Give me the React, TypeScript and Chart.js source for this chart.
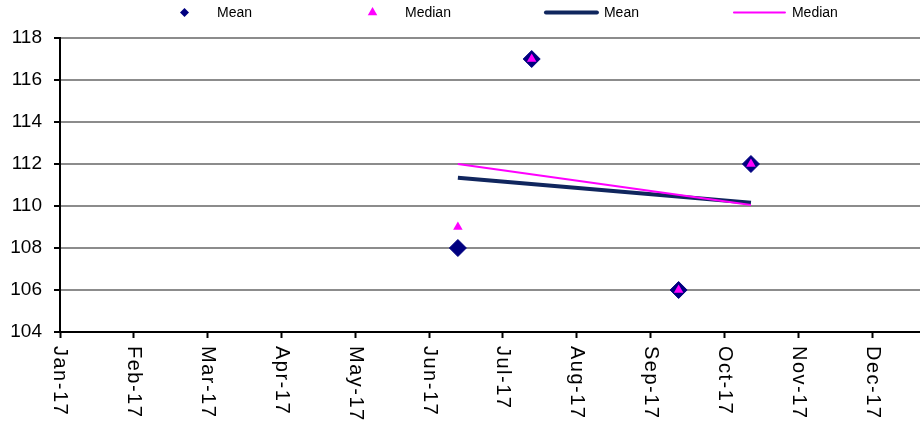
import React, { useEffect, useRef } from 'react';
import { Chart, registerables } from 'chart.js';

Chart.register(...registerables);

// ---- data ----
const monthLabels = ['Jan-17', 'Feb-17', 'Mar-17', 'Apr-17', 'May-17', 'Jun-17', 'Jul-17', 'Aug-17', 'Sep-17', 'Oct-17', 'Nov-17', 'Dec-17'];
// month index (0 = Jan-17) of each observation
const pointMonths = [5.39, 6.39, 8.38, 9.36];
const meanValues = [108, 117, 106, 112];
const medianValues = [109, 117, 106, 112];
// trend lines (start / end)
const trendMonths = [5.39, 9.36];
const meanTrend = [111.35, 110.15];
const medianTrend = [112.0, 110.05];
const yMin = 104;
const yMax = 118;
const yStep = 2;
const xMax = 11.65;

const NAVY = '#000080';
const TREND_NAVY = '#10265e';
const MAGENTA = '#ff00ff';
const FONT = '"Liberation Sans", Arial, sans-serif';

const toXY = (xs: number[], ys: number[]) => xs.map((x, i) => ({ x, y: ys[i] }));

const legendSpec = [
  { ds: 0, kind: 'diamond' },
  { ds: 1, kind: 'triangle' },
  { ds: 2, kind: 'line' },
  { ds: 3, kind: 'line' },
];

const customLegend = {
  id: 'customLegend',
  afterDraw(chart: any) {
    const { ctx } = chart;
    const boxW = 53;
    const gap = 94;
    const y = 12.5;
    let x = 158;
    ctx.save();
    ctx.font = `14px ${FONT}`;
    ctx.textBaseline = 'middle';
    ctx.textAlign = 'left';
    legendSpec.forEach((item) => {
      const ds = chart.data.datasets[item.ds];
      const cx = x + boxW / 2;
      if (item.kind === 'diamond') {
        const r = 4.5;
        ctx.fillStyle = ds.backgroundColor;
        ctx.beginPath();
        ctx.moveTo(cx - r, y);
        ctx.lineTo(cx, y - r);
        ctx.lineTo(cx + r, y);
        ctx.lineTo(cx, y + r);
        ctx.closePath();
        ctx.fill();
      } else if (item.kind === 'triangle') {
        const r = 5.5;
        ctx.fillStyle = ds.backgroundColor;
        ctx.beginPath();
        ctx.moveTo(cx, y - r);
        ctx.lineTo(cx + r * Math.sin((2 * Math.PI) / 3), y - r * Math.cos((2 * Math.PI) / 3));
        ctx.lineTo(cx + r * Math.sin((4 * Math.PI) / 3), y - r * Math.cos((4 * Math.PI) / 3));
        ctx.closePath();
        ctx.fill();
      } else {
        ctx.strokeStyle = ds.borderColor;
        ctx.lineWidth = ds.borderWidth;
        ctx.lineCap = 'round';
        ctx.beginPath();
        ctx.moveTo(x + 1, y);
        ctx.lineTo(x + boxW - 1, y);
        ctx.stroke();
      }
      ctx.fillStyle = '#000';
      const tx = x + boxW + 6;
      ctx.fillText(ds.label, tx, y + 0.5);
      x = tx + ctx.measureText(ds.label).width + gap;
    });
    ctx.restore();
  },
};

const rotatedXLabels = {
  id: 'rotatedXLabels',
  afterDraw(chart: any) {
    const { ctx } = chart;
    const xs = chart.scales.x;
    ctx.save();
    ctx.fillStyle = '#000';
    ctx.font = `20px ${FONT}`;
    try { (ctx as any).letterSpacing = '1.5px'; } catch (e) { /* ignore */ }
    ctx.textAlign = 'left';
    ctx.textBaseline = 'middle';
    monthLabels.forEach((lab, i) => {
      const px = xs.getPixelForValue(i);
      ctx.save();
      ctx.translate(px, xs.top + 14);
      ctx.rotate(Math.PI / 2);
      ctx.fillText(lab, 0, 0);
      ctx.restore();
    });
    ctx.restore();
  },
};

export default function App() {
  const canvasRef = useRef<HTMLCanvasElement | null>(null);

  useEffect(() => {
    if (!canvasRef.current) return;
    const chart = new Chart(canvasRef.current, {
      type: 'scatter',
      data: {
        datasets: [
          {
            label: 'Mean',
            data: toXY(pointMonths, meanValues),
            pointStyle: 'rectRot',
            pointRadius: 8.5,
            backgroundColor: NAVY,
            borderColor: NAVY,
            borderWidth: 1,
            showLine: false,
            order: 1,
          },
          {
            label: 'Median',
            data: toXY(pointMonths, medianValues),
            pointStyle: 'triangle',
            pointRadius: 5.5,
            backgroundColor: MAGENTA,
            borderColor: MAGENTA,
            borderWidth: 0,
            showLine: false,
            order: 0,
          },
          {
            label: 'Mean',
            data: toXY(trendMonths, meanTrend),
            showLine: true,
            borderColor: TREND_NAVY,
            backgroundColor: TREND_NAVY,
            borderWidth: 4,
            pointRadius: 0,
            order: 3,
          },
          {
            label: 'Median',
            data: toXY(trendMonths, medianTrend),
            showLine: true,
            borderColor: MAGENTA,
            backgroundColor: MAGENTA,
            borderWidth: 2,
            pointRadius: 0,
            order: 2,
          },
        ],
      },
      options: {
        animation: false,
        responsive: true,
        maintainAspectRatio: false,
        layout: { autoPadding: false, padding: { top: 38, right: 0, bottom: 0, left: 0 } },
        plugins: {
          legend: { display: false },
          tooltip: { enabled: false },
        },
        scales: {
          x: {
            type: 'linear',
            min: 0,
            max: xMax,
            afterBuildTicks: (s: any) => {
              s.ticks = monthLabels.map((_, i) => ({ value: i }));
            },
            afterFit: (s: any) => {
              s.height = 93;
            },
            ticks: { display: false, stepSize: 1 },
            grid: {
              drawOnChartArea: false,
              drawTicks: true,
              tickLength: 6,
              tickColor: '#000',
              tickWidth: 2,
            },
            border: { color: '#000', width: 2 },
          },
          y: {
            min: yMin,
            max: yMax,
            afterFit: (s: any) => {
              s.width = 60;
            },
            ticks: {
              stepSize: yStep,
              color: '#000',
              font: { family: FONT, size: 19 },
              padding: 12,
            },
            grid: {
              color: (c: any) => (c.tick && c.tick.value === yMin ? 'rgba(0,0,0,0)' : '#8c8c8c'),
              lineWidth: 2,
              tickColor: '#000',
              tickLength: 6,
              tickWidth: 2,
            },
            border: { color: '#000', width: 2 },
          },
        },
      },
      plugins: [customLegend, rotatedXLabels],
    } as any);
    return () => chart.destroy();
  }, []);

  return (
    <div style={{ position: 'absolute', left: 0, top: 0, width: 920, height: 425, background: '#fff' }}>
      <canvas ref={canvasRef} />
    </div>
  );
}
